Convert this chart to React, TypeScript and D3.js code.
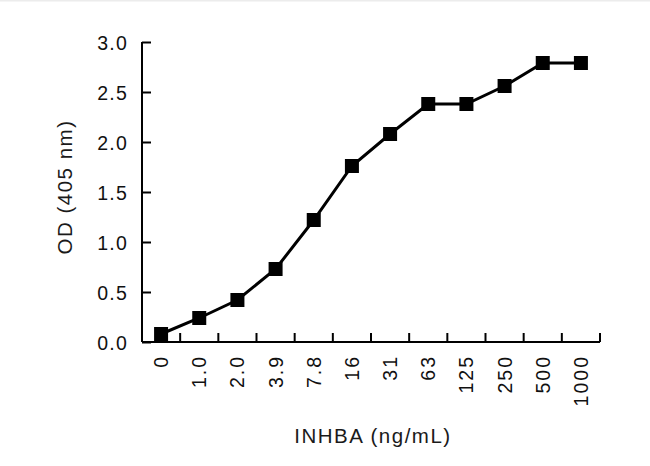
import { useEffect, useRef } from 'react';
import * as d3 from 'd3';

// INHBA standard curve
const concentrations = ['0', '1.0', '2.0', '3.9', '7.8', '16', '31', '63', '125', '250', '500', '1000'];
const odValues = [0.08, 0.24, 0.42, 0.73, 1.22, 1.76, 2.08, 2.38, 2.38, 2.56, 2.79, 2.79];
const yTicks = [0, 0.5, 1.0, 1.5, 2.0, 2.5, 3.0];

const FONT = '"Liberation Sans", Arial, sans-serif';

export default function App() {
  const svgRef = useRef<SVGSVGElement>(null);

  useEffect(() => {
    if (!svgRef.current) return;

    const width = 650;
    const height = 466;
    const margin = { top: 42, right: 50, bottom: 124, left: 142 };
    const innerWidth = width - margin.left - margin.right;
    const innerHeight = height - margin.top - margin.bottom;

    const svg = d3.select(svgRef.current);
    svg.selectAll('*').remove();
    svg.attr('width', width).attr('height', height);

    svg.append('rect').attr('width', width).attr('height', height).attr('fill', '#ffffff');
    svg.append('rect').attr('width', width).attr('height', 1.5).attr('fill', '#ececec');

    const g = svg.append('g').attr('transform', `translate(${margin.left},${margin.top})`);

    const xScale = d3.scaleBand<string>().domain(concentrations).range([0, innerWidth]).padding(0);
    const yScale = d3.scaleLinear().domain([0, 3]).range([innerHeight, 0]);

    // Y axis
    const yAxis = g
      .append('g')
      .call(
        d3
          .axisLeft(yScale)
          .tickValues(yTicks)
          .tickSize(-9)
          .tickPadding(14)
          .tickFormat((d) => d3.format('.1f')(d as number))
      );
    yAxis.select('.domain').attr('stroke', '#000').attr('stroke-width', 2).attr('d', `M0,${innerHeight}V0`);
    yAxis.selectAll('.tick line').attr('stroke', '#000').attr('stroke-width', 2);
    yAxis
      .selectAll('.tick text')
      .attr('fill', '#111')
      .attr('font-size', 19.5)
      .attr('letter-spacing', 1.2)
      .attr('dy', '0.36em')
      .attr('font-family', FONT);

    // X axis: ticks sit on the band boundaries
    const xAxisG = g.append('g').attr('transform', `translate(0,${innerHeight})`);
    xAxisG
      .append('line')
      .attr('x1', 0)
      .attr('x2', innerWidth)
      .attr('stroke', '#000')
      .attr('stroke-width', 2);
    const boundaries = [...concentrations.slice(1).map((c) => xScale(c)!), innerWidth];
    boundaries.forEach((x) => {
      xAxisG.append('line').attr('x1', x).attr('x2', x).attr('y1', 0).attr('y2', -9).attr('stroke', '#000').attr('stroke-width', 2);
    });

    xAxisG
      .selectAll('.xlabel')
      .data(concentrations)
      .enter()
      .append('text')
      .attr('transform', (d) => `translate(${xScale(d)! + xScale.bandwidth() / 2 + 7},13) rotate(-90)`)
      .attr('text-anchor', 'end')
      .attr('font-size', 19.5)
      .attr('letter-spacing', 2)
      .attr('font-family', FONT)
      .attr('fill', '#111')
      .text((d) => d);

    // Line
    const line = d3
      .line<number>()
      .x((_, i) => xScale(concentrations[i])! + xScale.bandwidth() / 2)
      .y((d) => yScale(d));

    g.append('path')
      .datum(odValues)
      .attr('fill', 'none')
      .attr('stroke', '#000')
      .attr('stroke-width', 3)
      .attr('d', line);

    // Square markers
    const size = 14;
    g.selectAll('.marker')
      .data(odValues)
      .enter()
      .append('rect')
      .attr('x', (_, i) => xScale(concentrations[i])! + xScale.bandwidth() / 2 - size / 2)
      .attr('y', (d) => yScale(d) - size / 2)
      .attr('width', size)
      .attr('height', size)
      .attr('fill', '#000');

    // Axis titles
    svg
      .append('text')
      .attr('x', 373)
      .attr('y', 443)
      .attr('text-anchor', 'middle')
      .attr('font-size', 20.5)
      .attr('letter-spacing', 1.5)
      .attr('font-family', FONT)
      .attr('fill', '#1a1a1a')
      .text('INHBA (ng/mL)');

    svg
      .append('text')
      .attr('transform', `translate(72,187) rotate(-90)`)
      .attr('text-anchor', 'middle')
      .attr('font-size', 20.5)
      .attr('letter-spacing', 1.5)
      .attr('font-family', FONT)
      .attr('fill', '#1a1a1a')
      .text('OD (405 nm)');
  }, []);

  return <svg ref={svgRef} style={{ position: 'absolute', left: 0, top: 0 }} />;
}
